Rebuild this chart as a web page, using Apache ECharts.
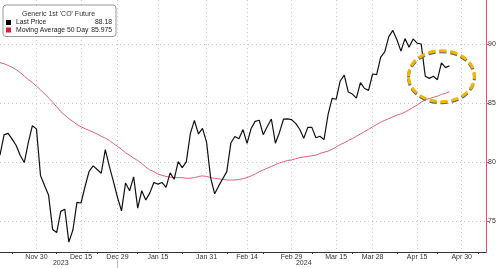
<!DOCTYPE html>
<html>
<head>
<meta charset="utf-8">
<script src="https://cdn.jsdelivr.net/npm/echarts@6/dist/echarts.min.js"></script>
<style>
html,body{margin:0;padding:0;background:#fff;}
#c{width:500px;height:268px;}
</style>
</head>
<body>
<div id="c"></div>
<script>
// ---- data ----
var firstDay = '2023-11-17';
var lastAxisDay = '2024-05-08';
var holidays = ['2023-12-25', '2024-01-01', '2024-03-29'];

var lastPrice = [
  80.61, 82.32, 82.45, 81.96, 81.42, 80.58, 79.98, 81.68, 83.10, 82.83,
  78.88, 78.03, 77.20, 74.30, 74.05, 75.84, 76.03, 73.24, 74.26, 76.61,
  76.55, 77.95, 79.23, 79.70, 79.39, 79.07, 81.07, 79.65, 78.39, 77.04,
  75.89, 78.25, 77.59, 78.76, 76.12, 77.59, 76.80, 77.41, 78.29, 78.15,
  78.29, 77.88, 79.10, 78.56, 80.06, 79.55, 80.04, 82.43, 83.55, 82.40,
  82.87, 81.71, 78.70, 77.33, 78.00, 78.60, 79.21, 81.63, 82.19, 82.00,
  82.77, 81.60, 82.86, 83.47, 83.56, 82.34, 83.03, 83.67, 81.62, 82.53,
  83.65, 83.68, 83.62, 83.30, 82.80, 82.04, 82.96, 82.96, 82.08, 82.21,
  81.92, 84.03, 85.42, 85.34, 86.89, 87.38, 85.95, 85.78, 85.43, 86.75,
  86.25, 86.09, 87.48, 87.42, 88.92, 89.35, 90.65, 91.17, 90.38, 89.42,
  90.48, 89.74, 90.45, 90.10, 90.02, 87.29, 87.11, 87.29, 87.00, 88.42,
  88.02, 88.18
];

var movingAvg50 = [
  88.45, 88.35, 88.20, 88.05, 87.85, 87.60, 87.30, 87.00, 86.75, 86.45,
  86.15, 85.80, 85.45, 85.10, 84.70, 84.30, 84.00, 83.70, 83.45, 83.20,
  83.00, 82.85, 82.70, 82.55, 82.40, 82.20, 82.05, 81.85, 81.60, 81.35,
  81.10, 80.80, 80.60, 80.35, 80.15, 79.90, 79.60, 79.35, 79.20, 79.00,
  78.90, 78.80, 78.75, 78.70, 78.70, 78.70, 78.65, 78.65, 78.70, 78.80,
  78.85, 78.80, 78.70, 78.65, 78.60, 78.55, 78.50, 78.50, 78.50, 78.55,
  78.60, 78.70, 78.85, 79.00, 79.20, 79.35, 79.50, 79.65, 79.80, 79.95,
  80.05, 80.15, 80.20, 80.30, 80.40, 80.45, 80.50, 80.55, 80.60, 80.75,
  80.85, 80.95, 81.10, 81.30, 81.50, 81.65, 81.85, 82.00, 82.20, 82.40,
  82.60, 82.80, 83.00, 83.20, 83.40, 83.55, 83.70, 83.85, 84.00, 84.10,
  84.25, 84.45, 84.65, 84.85, 85.10, 85.30, 85.40, 85.50, 85.60, 85.75,
  85.85, 85.975
];

var legendTitle = "Generic 1st 'CO' Future";
var seriesNames = ['Last Price', 'Moving Average 50 Day'];
var lastValues = ['88.18', '85.975'];

var tickDates = ['2023-11-30', '2023-12-15', '2023-12-29', '2024-01-15', '2024-01-31', '2024-02-14',
                 '2024-02-29', '2024-03-15', '2024-03-28', '2024-04-15', '2024-04-30'];
var tickLabels = ['Nov 30', 'Dec 15', 'Dec 29', 'Jan 15', 'Jan 31', 'Feb 14',
                  'Feb 29', 'Mar 15', 'Mar 28', 'Apr 15', 'Apr 30'];
var minorTickDates = ['2023-11-22', '2023-12-07', '2023-12-21', '2024-01-08', '2024-01-23', '2024-02-07',
                      '2024-02-20', '2024-03-07', '2024-03-21', '2024-04-08', '2024-04-22', '2024-05-06'];
var yearLabelDates = ['2023-12-08', '2024-03-05'];
var yearLabels = ['2023', '2024'];
var yearBoundaryDate = '2023-12-29';
var yTicks = [75, 80, 85, 90];

// ---- build trading-day categories ----
function fmt(d) {
  var m = d.getUTCMonth() + 1, day = d.getUTCDate();
  return d.getUTCFullYear() + '-' + (m < 10 ? '0' : '') + m + '-' + (day < 10 ? '0' : '') + day;
}
var dates = [];
(function () {
  var d = new Date(firstDay + 'T00:00:00Z');
  var end = new Date(lastAxisDay + 'T00:00:00Z');
  while (d <= end) {
    var wd = d.getUTCDay();
    var s = fmt(d);
    if (wd !== 0 && wd !== 6 && holidays.indexOf(s) < 0) dates.push(s);
    d.setUTCDate(d.getUTCDate() + 1);
  }
})();

var FONT = 'Liberation Sans, Arial, sans-serif';
var chart = echarts.init(document.getElementById('c'), null, {renderer: 'canvas'});

var option = {
  animation: false,
  backgroundColor: '#fff',
  title: {
    text: legendTitle,
    left: 22, top: 10, padding: 0,
    textStyle: {fontSize: 7, fontWeight: 'normal', color: '#333', fontFamily: FONT, lineHeight: 8},
    z: 10
  },
  legend: {
    orient: 'vertical',
    left: 3, top: 5,
    padding: [14, 4, 3, 3],
    backgroundColor: '#fff',
    borderColor: '#999', borderWidth: 1, borderRadius: 3,
    itemWidth: 5, itemHeight: 5, itemGap: 0.5,
    icon: 'rect',
    data: [
      {name: seriesNames[0], itemStyle: {color: '#000'}},
      {name: seriesNames[1], itemStyle: {color: '#d0203c'}}
    ],
    formatter: function (name) {
      var i = seriesNames.indexOf(name);
      return '{n|' + name + '}{v|' + lastValues[i] + '}';
    },
    textStyle: {
      fontSize: 6.8, color: '#222', fontFamily: FONT,
      rich: {
        n: {width: 73, fontSize: 6.8, fontFamily: FONT, color: '#222', lineHeight: 8},
        v: {width: 23, align: 'right', fontSize: 6.8, fontFamily: FONT, color: '#222', lineHeight: 8}
      }
    }
  },
  grid: {left: 0, right: 14, top: 0, bottom: 16, containLabel: false},
  xAxis: [{
    type: 'category',
    data: dates,
    boundaryGap: false,
    axisLine: {lineStyle: {color: '#333', width: 1}},
    axisTick: {
      show: true, length: 2,
      interval: function (i, v) { return minorTickDates.indexOf(v) >= 0; },
      lineStyle: {color: '#333'}
    },
    axisLabel: {
      interval: function (i, v) { return tickDates.indexOf(v) >= 0; },
      formatter: function (v) { var k = tickDates.indexOf(v); return k >= 0 ? tickLabels[k] : ''; },
      fontSize: 7, color: '#333', fontFamily: FONT, margin: 2
    },
    splitLine: {
      show: true,
      interval: function (i, v) { return tickDates.indexOf(v) >= 0; },
      lineStyle: {color: '#c8c8c8', type: [1, 3], width: 1}
    }
  }, {
    type: 'category',
    data: dates,
    boundaryGap: false,
    position: 'bottom',
    offset: 8,
    axisLine: {show: false},
    axisTick: {
      show: true, length: 8,
      interval: function (i, v) { return v === yearBoundaryDate; },
      lineStyle: {color: '#bbb'}
    },
    axisLabel: {
      interval: function (i, v) { return yearLabelDates.indexOf(v) >= 0; },
      formatter: function (v) { var k = yearLabelDates.indexOf(v); return k >= 0 ? yearLabels[k] : ''; },
      fontSize: 7, color: '#333', fontFamily: FONT, margin: 0
    },
    splitLine: {show: false}
  }],
  yAxis: {
    type: 'value',
    position: 'right',
    min: 72.4, max: 93.75,
    axisLine: {show: true, lineStyle: {color: '#e05068', width: 1}},
    axisTick: {show: true, length: 3, customValues: yTicks, lineStyle: {color: '#e05068'}},
    axisLabel: {customValues: yTicks, fontSize: 7, color: '#333', fontFamily: FONT, margin: 2},
    splitLine: {show: true, lineStyle: {color: '#c8c8c8', type: [1, 3], width: 1}}
  },
  series: [{
    name: seriesNames[0],
    type: 'line',
    data: lastPrice,
    showSymbol: false,
    lineStyle: {color: '#111', width: 1.2},
    itemStyle: {color: '#000'},
    z: 3
  }, {
    name: seriesNames[1],
    type: 'line',
    data: movingAvg50,
    showSymbol: false,
    lineStyle: {color: '#e0607a', width: 1},
    itemStyle: {color: '#d0203c'},
    z: 2
  }]
};
chart.setOption(option);

// annotation ellipse around the latest prices
var annotIdx = 108.6, annotVal = 87.3;
var ctr = chart.convertToPixel({xAxisIndex: 0, yAxisIndex: 0}, [annotIdx, annotVal]);
chart.setOption({
  graphic: [{
    type: 'ellipse',
    shape: {cx: ctr[0], cy: ctr[1] + 1.2, rx: 33, ry: 25.5},
    style: {fill: 'none', stroke: '#666', lineWidth: 3, lineDash: [7, 4]},
    z: 20, silent: true
  }, {
    type: 'ellipse',
    shape: {cx: ctr[0], cy: ctr[1], rx: 33, ry: 25.5},
    style: {fill: 'none', stroke: '#f2b705', lineWidth: 3, lineDash: [7, 4]},
    z: 21, silent: true
  }]
});
</script>
</body>
</html>
